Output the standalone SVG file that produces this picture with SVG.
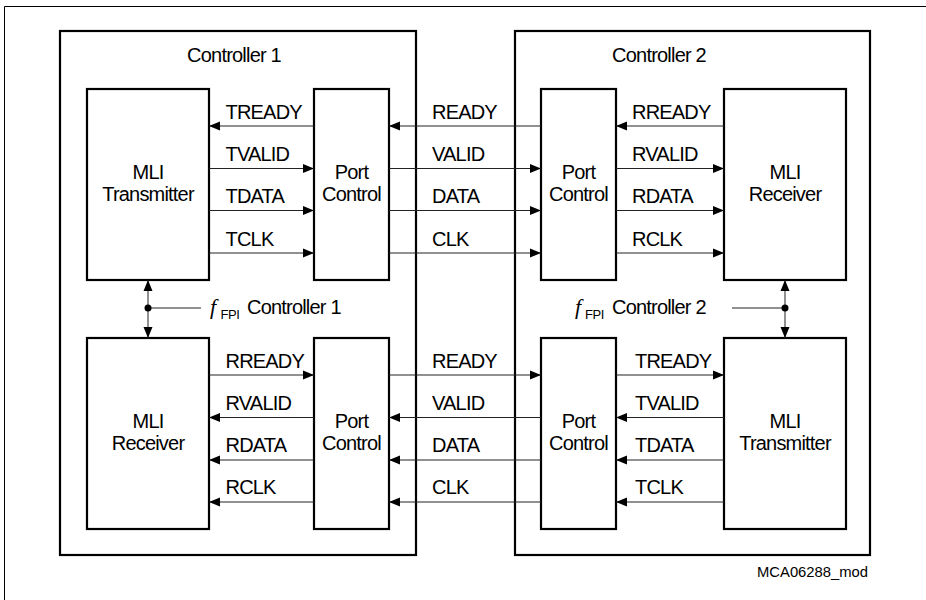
<svg xmlns="http://www.w3.org/2000/svg" width="926" height="600" viewBox="0 0 926 600">
<defs>
<marker id="ah" markerUnits="userSpaceOnUse" markerWidth="11" markerHeight="10" refX="11" refY="5" orient="auto">
<path d="M0,0.5 L11,5 L0,9.5 z" fill="#000"/>
</marker>
</defs>
<style>
.ctrl{fill:none;stroke:#000;stroke-width:2.2}
.blk{fill:#fff;stroke:#000;stroke-width:2.2}
.t{font-family:"Liberation Sans",Arial,sans-serif;font-size:20px;letter-spacing:-0.8px;fill:#000}
.c{text-anchor:middle}
.w{stroke:#222;stroke-width:1;fill:none}
.a{stroke:#222;stroke-width:1;fill:none;marker-end:url(#ah)}
.f{font-family:"Liberation Serif","Times New Roman",serif;font-style:italic;font-size:22px;fill:#000}
.sub{font-family:"Liberation Sans",Arial,sans-serif;font-size:13px;letter-spacing:-0.4px;fill:#000}
</style>
<rect width="926" height="600" fill="#fff"/>
<path d="M4.5,600 V6.5 H926" fill="none" stroke="#000" stroke-width="1"/>

<g id="controller1">
<rect class="ctrl" x="60" y="31" width="356" height="524"/>
<text class="t c" x="234" y="62">Controller 1</text>
</g>
<g id="controller2">
<rect class="ctrl" x="515" y="31" width="355" height="524"/>
<text class="t c" x="659" y="62">Controller 2</text>
</g>

<g id="c1-mli-transmitter">
<rect class="blk" x="87" y="89" width="122" height="191"/>
<text class="t c" x="148" y="179">MLI</text>
<text class="t c" x="148" y="201">Transmitter</text>
</g>
<g id="c1-port-control-top">
<rect class="blk" x="314" y="89" width="75" height="191"/>
<text class="t c" x="351.5" y="179">Port</text>
<text class="t c" x="351.5" y="201">Control</text>
</g>
<g id="c2-port-control-top">
<rect class="blk" x="541" y="89" width="75" height="191"/>
<text class="t c" x="578.5" y="179">Port</text>
<text class="t c" x="578.5" y="201">Control</text>
</g>
<g id="c2-mli-receiver">
<rect class="blk" x="724" y="89" width="122" height="191"/>
<text class="t c" x="785" y="179">MLI</text>
<text class="t c" x="785" y="201">Receiver</text>
</g>

<g id="c1-mli-receiver">
<rect class="blk" x="87" y="338" width="122" height="191"/>
<text class="t c" x="148" y="428">MLI</text>
<text class="t c" x="148" y="450">Receiver</text>
</g>
<g id="c1-port-control-bottom">
<rect class="blk" x="314" y="338" width="75" height="191"/>
<text class="t c" x="351.5" y="428">Port</text>
<text class="t c" x="351.5" y="450">Control</text>
</g>
<g id="c2-port-control-bottom">
<rect class="blk" x="541" y="338" width="75" height="191"/>
<text class="t c" x="578.5" y="428">Port</text>
<text class="t c" x="578.5" y="450">Control</text>
</g>
<g id="c2-mli-transmitter">
<rect class="blk" x="724" y="338" width="122" height="191"/>
<text class="t c" x="785" y="428">MLI</text>
<text class="t c" x="785" y="450">Transmitter</text>
</g>

<g id="connectors">
<path class="a" d="M314,126 H209"/>
<path class="a" d="M209,168.5 H314"/>
<path class="a" d="M209,210.5 H314"/>
<path class="a" d="M209,253 H314"/>
<path class="a" d="M541,126 H389"/>
<path class="a" d="M389,168.5 H541"/>
<path class="a" d="M389,210.5 H541"/>
<path class="a" d="M389,253 H541"/>
<path class="a" d="M724,126 H616"/>
<path class="a" d="M616,168.5 H724"/>
<path class="a" d="M616,210.5 H724"/>
<path class="a" d="M616,253 H724"/>
<path class="a" d="M209,375 H314"/>
<path class="a" d="M314,417.5 H209"/>
<path class="a" d="M314,460 H209"/>
<path class="a" d="M314,502 H209"/>
<path class="a" d="M389,375 H541"/>
<path class="a" d="M541,417.5 H389"/>
<path class="a" d="M541,460 H389"/>
<path class="a" d="M541,502 H389"/>
<path class="a" d="M616,375 H724"/>
<path class="a" d="M724,417.5 H616"/>
<path class="a" d="M724,460 H616"/>
<path class="a" d="M724,502 H616"/>
<path class="a" d="M148,308 V280"/>
<path class="a" d="M148,308 V338"/>
<path class="w" d="M148,308 H201"/>
<circle cx="148" cy="308" r="3.5" fill="#000"/>
<path class="a" d="M785,308 V280"/>
<path class="a" d="M785,308 V338"/>
<path class="w" d="M732,308 H785"/>
<circle cx="785" cy="308" r="3.5" fill="#000"/>
</g>

<g id="labels">
<text class="t" x="225.5" y="119">TREADY</text>
<text class="t" x="225.5" y="161">TVALID</text>
<text class="t" x="225.5" y="203">TDATA</text>
<text class="t" x="225.5" y="245.5">TCLK</text>
<text class="t" x="432" y="119">READY</text>
<text class="t" x="432" y="161">VALID</text>
<text class="t" x="432" y="203">DATA</text>
<text class="t" x="432" y="245.5">CLK</text>
<text class="t" x="632" y="119">RREADY</text>
<text class="t" x="632" y="161">RVALID</text>
<text class="t" x="632" y="203">RDATA</text>
<text class="t" x="632" y="245.5">RCLK</text>
<text class="t" x="225.5" y="368">RREADY</text>
<text class="t" x="225.5" y="410">RVALID</text>
<text class="t" x="225.5" y="452">RDATA</text>
<text class="t" x="225.5" y="493.5">RCLK</text>
<text class="t" x="432" y="368">READY</text>
<text class="t" x="432" y="410">VALID</text>
<text class="t" x="432" y="452">DATA</text>
<text class="t" x="432" y="493.5">CLK</text>
<text class="t" x="635" y="368">TREADY</text>
<text class="t" x="635" y="410">TVALID</text>
<text class="t" x="635" y="452">TDATA</text>
<text class="t" x="635" y="493.5">TCLK</text>
<text class="f" x="210" y="314">f</text>
<text class="sub" x="220.5" y="319">FPI</text>
<text class="t" x="247" y="314">Controller 1</text>
<text class="f" x="575" y="314">f</text>
<text class="sub" x="585" y="319">FPI</text>
<text class="t" x="612" y="314">Controller 2</text>
<text class="t" x="757" y="577" style="font-size:14.8px;letter-spacing:0">MCA06288_mod</text>
</g>
</svg>
